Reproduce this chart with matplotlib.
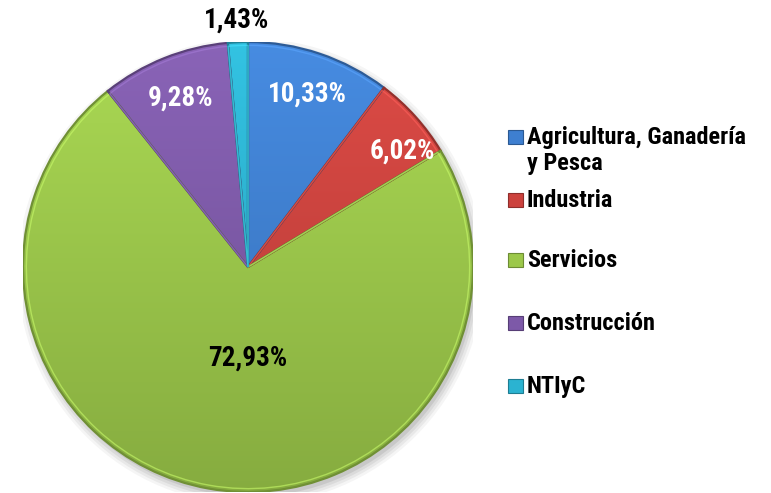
import numpy as np
import matplotlib
matplotlib.use("Agg")
import matplotlib.pyplot as plt
from matplotlib.patches import Rectangle, Circle, Wedge
import matplotlib.colors as mcolors

categories = ["Agricultura, Ganadería\ny Pesca", "Industria", "Servicios", "Construcción", "NTIyC"]
values = [10.33, 6.02, 72.93, 9.28, 1.43]
colors = ["#3E7FD0", "#CC423D", "#9CC84A", "#7D59A8", "#2BB3D1"]
label_colors = ["white", "white", "black", "white", "black"]
label_radius = [0.80, 0.86, 0.40, 0.81, 1.10]
label_shift = [(0.01, 0.01), (0.045, -0.06), (0.07, -0.01), (0.0, 0.0), (0.0, 0.0)]

FONT = ["Liberation Sans Narrow", "Arial Narrow", "Roboto Condensed", "Asap Condensed",
        "Liberation Sans", "DejaVu Sans"]

W, H = 771, 493
fig = plt.figure(figsize=(W / 100, H / 100), dpi=100)
fig.patch.set_facecolor("white")

cx, cy, R = 248, 267, 225
ax = fig.add_axes([(cx - R) / W, (H - cy - R) / H, 2 * R / W, 2 * R / H])

wedges, _ = ax.pie(values, startangle=90, counterclock=False, colors=colors,
                   radius=1.0, center=(0, 0), frame=True,
                   wedgeprops=dict(linewidth=0))
ax.set_xlim(-1, 1)
ax.set_ylim(-1, 1)
ax.set_aspect("equal")
ax.axis("off")

# soft drop shadow
for i, a in enumerate([0.04, 0.05, 0.06, 0.08]):
    ax.add_patch(Circle((0.012, -0.02), 1.0 + 0.012 * (3 - i), color="black", alpha=a, lw=0, zorder=0))

# vertical gradient fill per wedge
yy = np.linspace(1, -1, 256)[:, None]
for w, c in zip(wedges, colors):
    rgb = np.array(mcolors.to_rgb(c))
    top = np.clip(rgb * 1.06 + 0.02, 0, 1)
    bot = rgb * 0.86
    t = (1 - yy) / 2
    img = top[None, None, :] * (1 - t[..., None]) + bot[None, None, :] * t[..., None]
    img = np.repeat(img, 4, axis=1)
    im = ax.imshow(img, extent=(-1, 1, -1, 1), zorder=2, interpolation="bilinear", aspect="auto")
    im.set_clip_path(w)
    w.set_zorder(1)
ax.set_xlim(-1, 1)
ax.set_ylim(-1, 1)

# bevel edges
for w, c in zip(wedges, colors):
    rgb = np.array(mcolors.to_rgb(c))
    ax.add_patch(Wedge(w.center, w.r, w.theta1, w.theta2, facecolor="none",
                       edgecolor=tuple(rgb * 0.72), linewidth=1.6, zorder=3))
    ax.add_patch(Wedge(w.center, w.r * 0.985, w.theta1, w.theta2, facecolor="none",
                       edgecolor=tuple(np.clip(rgb * 1.15 + 0.08, 0, 1)), linewidth=1.0,
                       alpha=0.6, zorder=3))

# percentage labels
for w, v, lc, r, (sx, sy) in zip(wedges, values, label_colors, label_radius, label_shift):
    ang = np.deg2rad((w.theta1 + w.theta2) / 2)
    txt = f"{v:.2f}".replace(".", ",") + "%"
    ax.text(r * np.cos(ang) + sx, r * np.sin(ang) + sy, txt, ha="center", va="center",
            color=lc, fontsize=19.5, fontweight="bold", family=FONT, zorder=5,
            clip_on=False)

# legend (manual, Excel-like)
leg_y = [137, 200, 260, 323, 386]
for lab, c, y in zip(categories, colors, leg_y):
    rgb = np.array(mcolors.to_rgb(c))
    fig.add_artist(Rectangle((508 / W, (H - y - 7) / H), 15 / W, 14 / H,
                             transform=fig.transFigure, facecolor=c,
                             edgecolor=tuple(rgb * 0.7), linewidth=0.8))
    fig.text(527 / W, (H - y + 11) / H, lab, ha="left", va="top",
             fontsize=17.5, fontweight="bold", family=FONT, color="black",
             linespacing=1.15)

fig.savefig("out.png", dpi=100, facecolor="white")
